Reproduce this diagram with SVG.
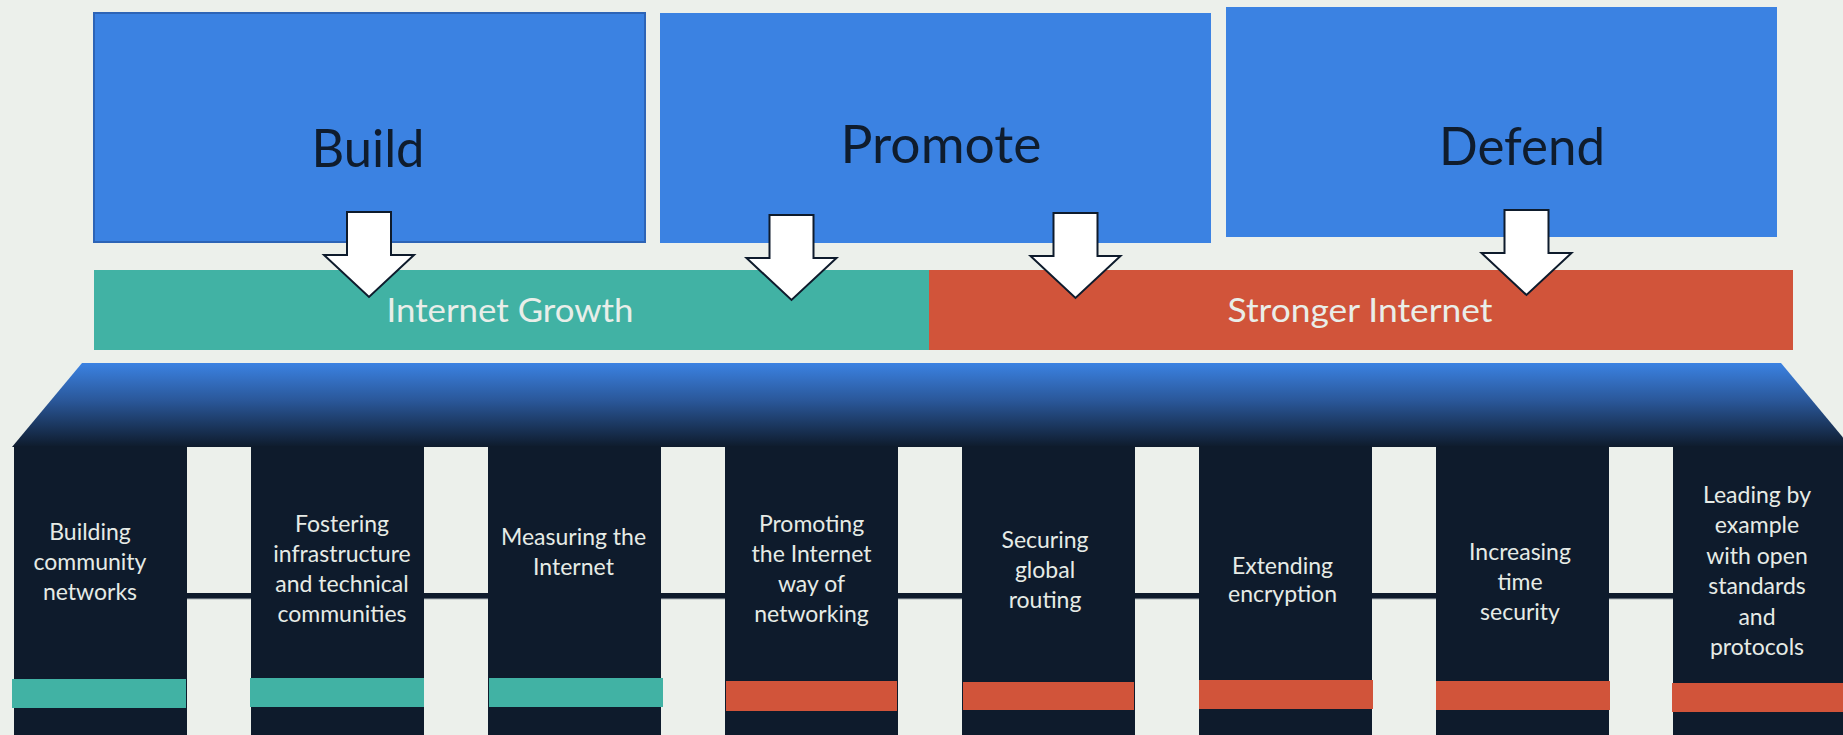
<svg xmlns="http://www.w3.org/2000/svg" width="1843" height="735" viewBox="0 0 1843 735">
  <style>
    .top { fill: #3b82e2; }
    .toplabel { font-family: Lato, "Open Sans", sans-serif; font-size: 52px; fill: #0f1c2d; text-anchor: middle; }
    .bandlabel { font-family: Lato, "Open Sans", sans-serif; font-size: 33px; fill: #e9eee9; text-anchor: middle; }
    .pillar { fill: #0e1b2c; }
    .ptext { font-family: Lato, "Open Sans", sans-serif; font-size: 23px; fill: #e6ebe6; text-anchor: middle; }
    .teal { fill: #41b2a4; }
    .red { fill: #d1543a; }
    .arrow { fill: #ffffff; stroke: #0e1b2c; stroke-width: 2; stroke-linejoin: miter; }
    .gapline { stroke: #aab3b8; stroke-width: 1; }
  </style>
  <defs>
    <linearGradient id="roofGrad" x1="0" y1="0" x2="0" y2="1">
      <stop offset="0" stop-color="#3b82e2"/>
      <stop offset="0.45" stop-color="#2a5799"/>
      <stop offset="1" stop-color="#0e1b2c"/>
    </linearGradient>
    <path id="downArrow" d="M-22,0 H22 V43 H45 L0,85 L-45,43 H-22 Z"/>
  </defs>

  <rect x="0" y="0" width="1843" height="735" fill="#ecf0eb"/>

  <g id="build">
    <rect class="top" x="94" y="13" width="551" height="229" stroke="#2d64b6" stroke-width="2"/>
    <text class="toplabel" x="368" y="167" textLength="113" lengthAdjust="spacingAndGlyphs">Build</text>
  </g>
  <g id="promote">
    <rect class="top" x="660" y="13" width="551" height="230"/>
    <text class="toplabel" x="941" y="163" textLength="201" lengthAdjust="spacingAndGlyphs">Promote</text>
  </g>
  <g id="defend">
    <rect class="top" x="1226" y="7" width="551" height="230"/>
    <text class="toplabel" x="1522" y="165" textLength="166" lengthAdjust="spacingAndGlyphs">Defend</text>
  </g>

  <g id="internet-growth">
    <rect class="teal" x="94" y="270" width="835" height="80"/>
    <text class="bandlabel" x="510" y="322" textLength="247" lengthAdjust="spacingAndGlyphs">Internet Growth</text>
  </g>
  <g id="stronger-internet">
    <rect class="red" x="929" y="270" width="864" height="80"/>
    <text class="bandlabel" x="1360" y="322" textLength="265" lengthAdjust="spacingAndGlyphs">Stronger Internet</text>
  </g>

  <g id="connectors">
    <use href="#downArrow" class="arrow" transform="translate(369,212)"/>
    <use href="#downArrow" class="arrow" transform="translate(791.5,215)"/>
    <use href="#downArrow" class="arrow" transform="translate(1075.5,213)"/>
    <use href="#downArrow" class="arrow" transform="translate(1526.5,210)"/>
  </g>

  <g id="roof">
    <polygon points="82,363 1781,363 1851,447 12,447" fill="url(#roofGrad)"/>
    <rect class="pillar" x="14" y="593" width="1829" height="6"/>
    <line class="gapline" x1="187" y1="599" x2="251" y2="599"/>
    <line class="gapline" x1="424" y1="599" x2="488" y2="599"/>
    <line class="gapline" x1="661" y1="599" x2="725" y2="599"/>
    <line class="gapline" x1="898" y1="599" x2="962" y2="599"/>
    <line class="gapline" x1="1135" y1="599" x2="1199" y2="599"/>
    <line class="gapline" x1="1372" y1="599" x2="1436" y2="599"/>
    <line class="gapline" x1="1609" y1="599" x2="1673" y2="599"/>
  </g>

  <g id="pillar-1">
    <rect class="pillar" x="14" y="446" width="173" height="289"/>
    <rect class="teal" x="12" y="679" width="174" height="29"/>
    <text class="ptext" x="90"><tspan x="90" y="540">Building</tspan><tspan x="90" y="570">community</tspan><tspan x="90" y="600">networks</tspan></text>
  </g>
  <g id="pillar-2">
    <rect class="pillar" x="251" y="446" width="173" height="289"/>
    <rect class="teal" x="250" y="678" width="174" height="29"/>
    <text class="ptext"><tspan x="342" y="532">Fostering</tspan><tspan x="342" y="562">infrastructure</tspan><tspan x="342" y="592">and technical</tspan><tspan x="342" y="622">communities</tspan></text>
  </g>
  <g id="pillar-3">
    <rect class="pillar" x="488" y="446" width="173" height="289"/>
    <rect class="teal" x="489" y="678" width="174" height="29"/>
    <text class="ptext"><tspan x="573.5" y="545">Measuring the</tspan><tspan x="573.5" y="575">Internet</tspan></text>
  </g>
  <g id="pillar-4">
    <rect class="pillar" x="725" y="446" width="173" height="289"/>
    <rect class="red" x="726" y="681" width="171" height="30"/>
    <text class="ptext"><tspan x="811.5" y="532">Promoting</tspan><tspan x="811.5" y="562">the Internet</tspan><tspan x="811.5" y="592">way of</tspan><tspan x="811.5" y="622">networking</tspan></text>
  </g>
  <g id="pillar-5">
    <rect class="pillar" x="962" y="446" width="173" height="289"/>
    <rect class="red" x="963" y="682" width="171" height="28"/>
    <text class="ptext"><tspan x="1045" y="548">Securing</tspan><tspan x="1045" y="578">global</tspan><tspan x="1045" y="608">routing</tspan></text>
  </g>
  <g id="pillar-6">
    <rect class="pillar" x="1199" y="446" width="173" height="289"/>
    <rect class="red" x="1199" y="680" width="174" height="29"/>
    <text class="ptext"><tspan x="1282.5" y="573.5">Extending</tspan><tspan x="1282.5" y="602">encryption</tspan></text>
  </g>
  <g id="pillar-7">
    <rect class="pillar" x="1436" y="446" width="173" height="289"/>
    <rect class="red" x="1436" y="681" width="174" height="29"/>
    <text class="ptext"><tspan x="1520" y="560">Increasing</tspan><tspan x="1520" y="590">time</tspan><tspan x="1520" y="620">security</tspan></text>
  </g>
  <g id="pillar-8">
    <rect class="pillar" x="1673" y="446" width="170" height="289"/>
    <rect class="red" x="1672" y="683" width="171" height="29"/>
    <text class="ptext"><tspan x="1757" y="503">Leading by</tspan><tspan x="1757" y="533.4">example</tspan><tspan x="1757" y="563.8">with open</tspan><tspan x="1757" y="594.2">standards</tspan><tspan x="1757" y="624.6">and</tspan><tspan x="1757" y="655">protocols</tspan></text>
  </g>
</svg>
